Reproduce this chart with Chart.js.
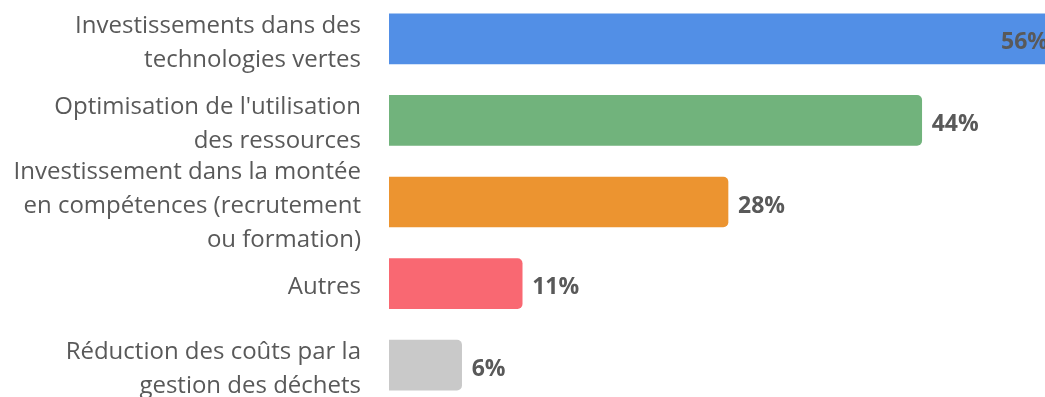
<!DOCTYPE html>
<html lang="fr">
<head>
<meta charset="utf-8">
<title>Priorités d'investissement</title>
<script src="https://cdn.jsdelivr.net/npm/chart.js@4/dist/chart.umd.min.js"></script>
<style>
  html, body { margin: 0; padding: 0; background: #fff; overflow: hidden; }
  body { width: 1045px; height: 397px; position: relative; }
  .wrap { position: absolute; left: 0; top: -2px; width: 1067px; height: 408px; }
</style>
</head>
<body>
<div class="wrap"><canvas id="chart"></canvas></div>
<script>
const categories = [
  ["Investissements dans des", "technologies vertes"],
  ["Optimisation de l'utilisation", "des ressources"],
  ["Investissement dans la montée", "en compétences (recrutement", "ou formation)"],
  "Autres",
  ["Réduction des coûts par la", "gestion des déchets"]
];
const values = [56, 44, 28, 11, 6];
const barColors = ["#528fe6", "#71b37c", "#ec9430", "#f96872", "#c9c9c9"];

const textColor = "#595959";
const fontFamily = "'Open Sans', sans-serif";

// value labels: right of the bar, or inside its end when there's no room
const barValueLabels = {
  id: "barValueLabels",
  afterDatasetsDraw(chart) {
    const { ctx, chartArea } = chart;
    const meta = chart.getDatasetMeta(0);
    ctx.save();
    ctx.font = "bold 23px " + fontFamily;
    ctx.fillStyle = textColor;
    ctx.textBaseline = "middle";
    meta.data.forEach((bar, i) => {
      const text = values[i] + "%";
      const w = ctx.measureText(text).width;
      const y = bar.y + 4;
      if (bar.x + 10 + w > chartArea.right) {
        ctx.textAlign = "right";
        ctx.fillText(text, bar.x - 19, y);
      } else {
        ctx.textAlign = "left";
        ctx.fillText(text, bar.x + 10, y);
      }
    });
    ctx.restore();
  }
};

new Chart(document.getElementById("chart"), {
  type: "bar",
  data: {
    labels: categories,
    datasets: [{
      data: values,
      backgroundColor: barColors,
      borderRadius: 5,
      borderSkipped: "start",
      barThickness: 50
    }]
  },
  options: {
    indexAxis: "y",
    responsive: true,
    maintainAspectRatio: false,
    animation: false,
    layout: { padding: 0 },
    plugins: {
      legend: { display: false },
      tooltip: { enabled: false }
    },
    scales: {
      x: {
        display: false,
        min: 0,
        max: 56
      },
      y: {
        grid: { display: false, drawTicks: false },
        border: { display: false },
        afterFit(scale) {
          scale.width = 389;
          // let the wrapped labels run past the plot edges
          scale.paddingTop = 0;
          scale.paddingBottom = 0;
        },
        ticks: {
          autoSkip: false,
          padding: 28,
          labelOffset: 4,
          color: textColor,
          font: { family: fontFamily, size: 24, lineHeight: 1.42 }
        }
      }
    }
  },
  plugins: [barValueLabels]
});
</script>
</body>
</html>
